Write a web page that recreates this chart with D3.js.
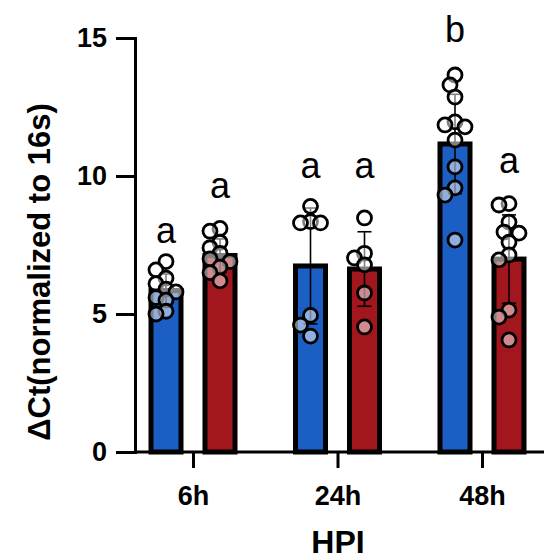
<!DOCTYPE html>
<html>
<head>
<meta charset="utf-8">
<script src="https://cdn.jsdelivr.net/npm/d3@7"></script>
<style>
  body { margin: 0; background: #fff; }
  svg text { font-family: "Liberation Sans", Arial, sans-serif; }
</style>
</head>
<body>
<script>
// categories
var groups = ["6h", "24h", "48h"];
var series = ["blue", "red"];

// bar heights (mean) and SD, per series
var meanBlue = [5.85, 6.74, 11.16];
var meanRed = [7.12, 6.63, 6.99];
var sdBlue = [0.6, 2.1, 1.8];
var sdRed = [0.6, 1.35, 1.6];

// individual points
var ptsBlue = [
  [6.9, 6.6, 6.3, 6.1, 5.9, 5.8, 5.6, 5.5, 5.1, 5.0],
  [8.9, 8.35, 8.3, 8.3, 4.95, 4.6, 4.2],
  [13.66, 13.3, 12.86, 11.96, 11.85, 11.78, 11.3, 10.33, 9.57, 9.31, 7.68]
];
var ptsRed = [
  [8.1, 8.0, 7.6, 7.4, 7.2, 7.0, 6.9, 6.7, 6.5, 6.2],
  [8.48, 7.2, 7.03, 6.78, 5.76, 4.53],
  [9.0, 8.95, 8.33, 7.97, 7.93, 7.6, 7.14, 6.96, 5.14, 4.89, 4.06]
];

// significance letters and the value they sit at
var letterBlue = ["a", "a", "b"];
var letterRed = ["a", "a", "a"];
var letterAtBlue = [7.57, 9.93, 14.86];
var letterAtRed = [9.2, 9.93, 10.1];

var yTicks = [0, 5, 10, 15];

var colors = { blue: "#1b5ec4", red: "#a2171d" };

var W = 544, H = 559;
var svg = d3.select("body").append("svg")
  .attr("width", W)
  .attr("height", H);

var y = d3.scaleLinear().domain([0, 15]).range([452, 38]);
var x = d3.scalePoint().domain(groups).range([193, 482]);
var xs = d3.scalePoint().domain(series).range([-27, 27]);

var barW = 30;

var rows = [];
groups.forEach(function (g, i) {
  rows.push({ g: g, s: "blue", mean: meanBlue[i], sd: sdBlue[i], pts: ptsBlue[i], letter: letterBlue[i], ly: letterAtBlue[i] });
  rows.push({ g: g, s: "red", mean: meanRed[i], sd: sdRed[i], pts: ptsRed[i], letter: letterRed[i], ly: letterAtRed[i] });
});

function cx(d) { return x(d.g) + xs(d.s); }

// bars
svg.selectAll("rect.bar").data(rows).enter().append("rect")
  .attr("class", "bar")
  .attr("x", function (d) { return cx(d) - barW / 2; })
  .attr("width", barW)
  .attr("y", function (d) { return y(d.mean); })
  .attr("height", function (d) { return y(0) - y(d.mean); })
  .attr("fill", function (d) { return colors[d.s]; })
  .attr("stroke", "#000")
  .attr("stroke-width", 5);

// error bars
var eb = svg.selectAll("g.err").data(rows).enter().append("g").attr("class", "err")
  .attr("stroke", "#000").attr("stroke-width", 1.6);
eb.append("line")
  .attr("x1", cx).attr("x2", cx)
  .attr("y1", function (d) { return y(d.mean - d.sd); })
  .attr("y2", function (d) { return y(d.mean + d.sd); });
eb.append("line")
  .attr("x1", function (d) { return cx(d) - 7; }).attr("x2", function (d) { return cx(d) + 7; })
  .attr("y1", function (d) { return y(d.mean + d.sd); })
  .attr("y2", function (d) { return y(d.mean + d.sd); });
eb.append("line")
  .attr("x1", function (d) { return cx(d) - 7; }).attr("x2", function (d) { return cx(d) + 7; })
  .attr("y1", function (d) { return y(d.mean - d.sd); })
  .attr("y2", function (d) { return y(d.mean - d.sd); });

// simple dodge so points spread sideways like a scatter
function dodge(vals, c) {
  var placed = [];
  var step = 5, maxK = 2, minDist = 11;
  vals.forEach(function (v) {
    var py = y(v), best = null, bestD = -1;
    for (var k = 0; k <= maxK; k++) {
      var cands = k === 0 ? [0] : [-k * step, k * step];
      for (var j = 0; j < cands.length; j++) {
        var px = c + cands[j];
        var dmin = Infinity;
        placed.forEach(function (p) {
          dmin = Math.min(dmin, Math.hypot(p.x - px, p.y - py));
        });
        if (dmin >= minDist) { best = px; bestD = Infinity; break; }
        if (dmin > bestD) { bestD = dmin; best = px; }
      }
      if (bestD === Infinity) break;
    }
    placed.push({ x: best, y: py });
  });
  return placed;
}

var dots = [];
rows.forEach(function (d) {
  dodge(d.pts, cx(d)).forEach(function (p) { dots.push(p); });
});

svg.selectAll("circle.pt").data(dots).enter().append("circle")
  .attr("class", "pt")
  .attr("cx", function (d) { return d.x; })
  .attr("cy", function (d) { return d.y; })
  .attr("r", 7)
  .attr("fill", "#fff")
  .attr("fill-opacity", 0.5)
  .attr("stroke", "#000")
  .attr("stroke-width", 2.8);

// letters
svg.selectAll("text.letter").data(rows).enter().append("text")
  .attr("class", "letter")
  .attr("x", cx)
  .attr("y", function (d) { return y(d.ly); })
  .attr("text-anchor", "middle")
  .style("font-size", "36px")
  .text(function (d) { return d.letter; });

// y axis
var yAxis = svg.append("g")
  .attr("transform", "translate(135,0)")
  .call(d3.axisLeft(y).tickValues(yTicks).tickSize(19).tickPadding(9));
yAxis.selectAll("text").style("font-size", "27px").style("font-weight", "bold").attr("fill", "#000");

// x axis
var xAxis = svg.append("g")
  .attr("transform", "translate(0,452)")
  .call(d3.axisBottom(x).tickSize(16).tickPadding(18).tickSizeOuter(0));
xAxis.select(".domain").attr("d", "M135,0H544");
xAxis.selectAll("text").style("font-size", "27px").style("font-weight", "bold").attr("fill", "#000");

svg.selectAll(".domain, .tick line").attr("stroke", "#000").attr("stroke-width", 3);

// titles
svg.append("text")
  .attr("x", 338)
  .attr("y", 553)
  .attr("text-anchor", "middle")
  .style("font-size", "32px")
  .style("font-weight", "bold")
  .text("HPI");

svg.append("text")
  .attr("transform", "translate(50,272) rotate(-90)")
  .attr("text-anchor", "middle")
  .style("font-size", "31px")
  .style("font-weight", "bold")
  .text("ΔCt(normalized to 16s)");
</script>
</body>
</html>
